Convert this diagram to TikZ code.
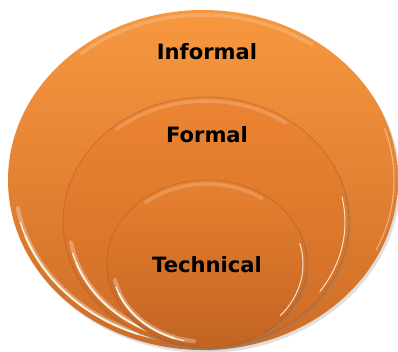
\documentclass[tikz,border=0pt]{standalone}
\usepackage{fontspec}
\setmainfont{DejaVu Sans}
\usetikzlibrary{shadows}

\definecolor{orangetop}{RGB}{247,152,64}
\definecolor{orangemid}{RGB}{236,132,50}
\definecolor{orangelow}{RGB}{206,108,38}
\definecolor{orangedeep}{RGB}{194,100,34}

\begin{document}
\begin{tikzpicture}[x=0.025cm,y=0.025cm,
  disc/.style={drop shadow={opacity=.25,shadow xshift=1.5pt,shadow yshift=-2pt}},
  edge/.style={orangedeep!80!black,opacity=.35,line width=.6pt},
  glow/.style={white,opacity=.3,line width=3pt,line cap=round},
  shine/.style={white!85!yellow,opacity=.6,line width=1.6pt,line cap=round},
  rim/.style={white,opacity=.95,line width=.7pt,line cap=round},
  sheen/.style={white,opacity=.18,line width=2.5pt,line cap=round},
  label/.style={font=\bfseries\fontsize{15}{18}\selectfont,text=black}]

\useasboundingbox (0,0) rectangle (398,352);

% outer ring
\path[disc,top color=orangetop,bottom color=orangelow]
  (203,172) ellipse [x radius=195,y radius=170];
\draw[glow] (203,172) ++(190:188 and 163) arc[start angle=190,end angle=262,x radius=188,y radius=163];
\draw[shine] (203,172) ++(200:189 and 164) arc[start angle=200,end angle=250,x radius=189,y radius=164];
\draw[rim] (203,172) ++(195:189 and 164) arc[start angle=195,end angle=256,x radius=189,y radius=164];
\draw[sheen] (203,172) ++(55:190 and 165) arc[start angle=55,end angle=130,x radius=190,y radius=165];
\draw[rim,opacity=.45] (203,172) ++(-25:191 and 166) arc[start angle=-25,end angle=18,x radius=191,y radius=166];

% middle ring
\path[disc,top color=orangemid,bottom color=orangelow]
  (206,130) ellipse [x radius=143,y radius=125];
\draw[edge] (206,130) ellipse [x radius=143,y radius=125];
\draw[glow] (206,130) ++(190:137 and 119) arc[start angle=190,end angle=262,x radius=137,y radius=119];
\draw[shine] (206,130) ++(200:138 and 120) arc[start angle=200,end angle=250,x radius=138,y radius=120];
\draw[rim] (206,130) ++(195:138 and 120) arc[start angle=195,end angle=256,x radius=138,y radius=120];
\draw[sheen] (206,130) ++(55:139 and 121) arc[start angle=55,end angle=130,x radius=139,y radius=121];
\draw[rim,opacity=.8] (206,130) ++(-35:139 and 121) arc[start angle=-35,end angle=12,x radius=139,y radius=121];

% inner ring
\path[disc,top color=orangemid!85!orangelow,bottom color=orangedeep]
  (207,88) ellipse [x radius=100,y radius=84];
\draw[edge] (207,88) ellipse [x radius=100,y radius=84];
\draw[glow] (207,88) ++(192:94 and 78) arc[start angle=192,end angle=262,x radius=94,y radius=78];
\draw[shine] (207,88) ++(202:95 and 79) arc[start angle=202,end angle=250,x radius=95,y radius=79];
\draw[rim] (207,88) ++(197:95 and 79) arc[start angle=197,end angle=256,x radius=95,y radius=79];
\draw[sheen] (207,88) ++(55:96 and 80) arc[start angle=55,end angle=130,x radius=96,y radius=80];
\draw[rim,opacity=.8] (207,88) ++(-40:96 and 80) arc[start angle=-40,end angle=15,x radius=96,y radius=80];

% labels
\node[label] (informal) at (207,300) {Informal};
\node[label] (formal) at (207,217) {Formal};
\node[label] (technical) at (207,87) {Technical};

\end{tikzpicture}
\end{document}
